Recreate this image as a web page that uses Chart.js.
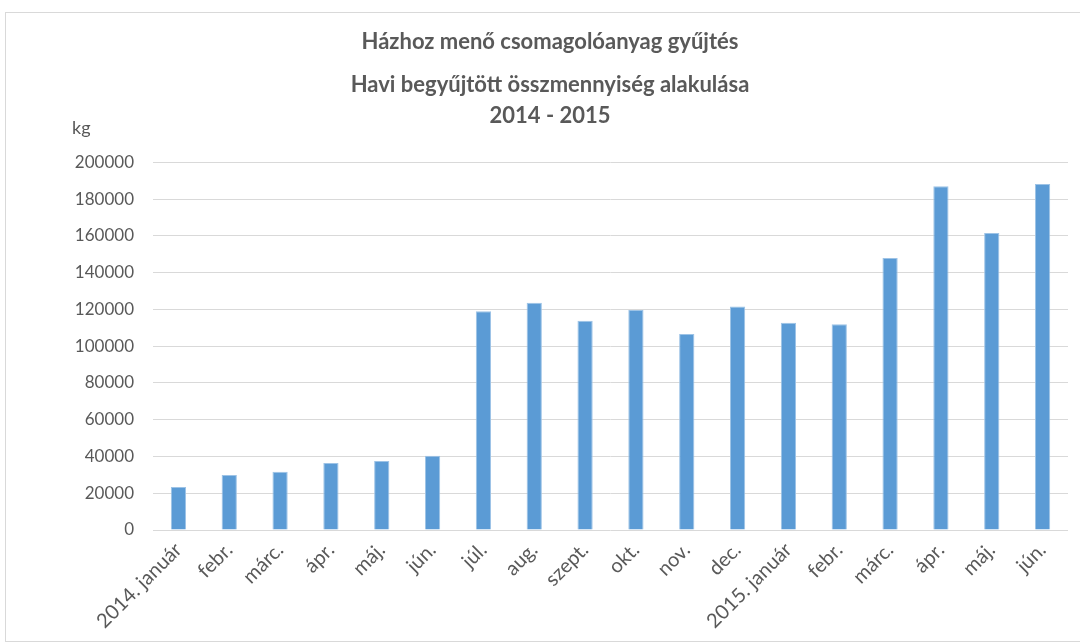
<!DOCTYPE html>
<html>
<head>
<meta charset="utf-8">
<script src="https://cdn.jsdelivr.net/npm/chart.js@4"></script>
<style>
  body { margin: 0; background: #fff; overflow: hidden; }
  #wrap { position: absolute; left: 5px; top: 12px; width: 1076px; height: 630px; border: 1px solid #d9d9d9; box-sizing: border-box; }
</style>
</head>
<body>
<div id="wrap"><canvas id="chart"></canvas></div>
<script>
const months = ['2014. január', 'febr.', 'márc.', 'ápr.', 'máj.', 'jún.', 'júl.', 'aug.', 'szept.', 'okt.', 'nov.', 'dec.',
    '2015. január', 'febr.', 'márc.', 'ápr.', 'máj.', 'jún.'];
const collected = [23400, 29900, 31700, 36400, 37500, 40400, 119000, 123700, 113800, 119700, 106700, 121600,
    112800, 112000, 148000, 187100, 161600, 188200];
const yTicks = [0, 20000, 40000, 60000, 80000, 100000, 120000, 140000, 160000, 180000, 200000];

const grey = '#595959';
const font = 'Lato, "Open Sans", sans-serif';

const kgLabel = {
    id: 'kgLabel',
    afterDraw(chart) {
        const ctx = chart.ctx;
        const y = chart.scales.y;
        ctx.save();
        ctx.font = '18px ' + font;
        ctx.fillStyle = grey;
        ctx.textAlign = 'left';
        ctx.textBaseline = 'middle';
        ctx.fillText('kg', 66, y.top - 34);
        ctx.restore();
    }
};

new Chart(document.getElementById('chart').getContext('2d'), {
    type: 'bar',
    data: {
        labels: months,
        datasets: [{
            label: 'kg',
            data: collected,
            backgroundColor: '#5b9bd5',
            borderColor: '#9dc3e6',
            borderWidth: 1,
            categoryPercentage: 1,
            barPercentage: 0.3
        }]
    },
    options: {
        responsive: true,
        maintainAspectRatio: false,
        animation: false,
        layout: { padding: { left: 26, right: 12, top: 0, bottom: 0 } },
        plugins: {
            legend: { display: false },
            tooltip: { enabled: false },
            title: {
                display: true,
                text: 'Házhoz menő csomagolóanyag gyűjtés',
                color: grey,
                font: { family: font, size: 22, weight: 'bold' },
                padding: { top: 16, bottom: 15 }
            },
            subtitle: {
                display: true,
                text: ['Havi begyűjtött összmennyiség alakulása', '2014 - 2015'],
                color: grey,
                font: { family: font, size: 22, weight: 'bold', lineHeight: 1.364 },
                padding: { top: 0, bottom: 32 }
            }
        },
        scales: {
            x: {
                afterFit: axis => { axis.height = 111; },
                grid: { display: false, drawTicks: false },
                border: { display: false },
                ticks: { color: grey, font: { family: font, size: 20 }, maxRotation: 45, minRotation: 45, autoSkip: false, padding: 8 }
            },
            y: {
                min: 0,
                max: 200000,
                afterBuildTicks: axis => { axis.ticks = yTicks.map(v => ({ value: v })); },
                afterFit: axis => { axis.width = 121; },
                grid: { color: '#d9d9d9', lineWidth: 1, drawTicks: false },
                border: { display: false },
                ticks: { color: grey, font: { family: font, size: 17 }, padding: 19, callback: v => String(v) }
            }
        }
    },
    plugins: [kgLabel]
});
</script>
</body>
</html>
